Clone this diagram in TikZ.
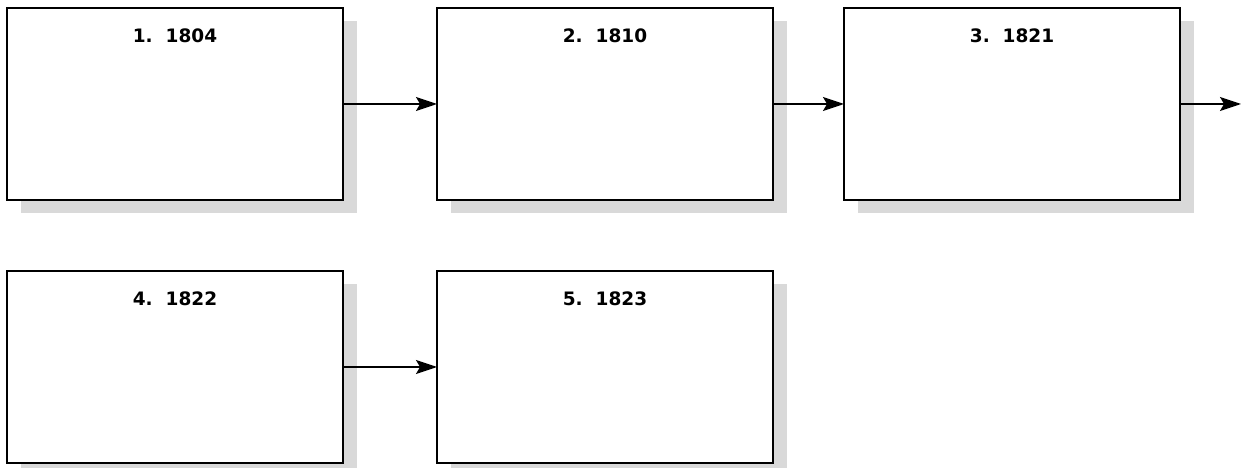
\documentclass[tikz,border=0pt]{standalone}
\usepackage{fontspec}
\setmainfont{DejaVu Sans}
\usetikzlibrary{arrows.meta, positioning, shadows}

\begin{document}
\begin{tikzpicture}[
    x=1pt, y=1pt,
    node distance=71pt,
    box/.style={rectangle, draw=black, fill=white, line width=2.2pt,
        minimum width=336pt, minimum height=192pt, outer sep=0pt, inner sep=0pt,
        drop shadow={shadow xshift=14pt, shadow yshift=-13pt, fill=black!15, opacity=1}},
    yr/.style={anchor=north, yshift=-17pt, font=\fontsize{18.5}{20}\selectfont\bfseries},
    arr/.style={-{Stealth[length=21pt, width=14pt, inset=4pt]}, line width=1.6pt}
]
    \useasboundingbox (0,0) rectangle (1241,468);

    % first row
    \node[box, label={[yr]north:1.\ \ 1804}] (b1) at (175,364) {};
    \node[box, right=94pt of b1, label={[yr]north:2.\ \ 1810}] (b2) {};
    \node[box, right=of b2, label={[yr]north:3.\ \ 1821}] (b3) {};
    \coordinate[right=61pt of b3] (b3out);

    % second row
    \node[box, below=of b1, label={[yr]north:4.\ \ 1822}] (b4) {};
    \node[box, right=94pt of b4, label={[yr]north:5.\ \ 1823}] (b5) {};

    \foreach \a/\b in {b1/b2, b2/b3, b3/b3out, b4/b5}
        \draw[arr] (\a) -- (\b);
\end{tikzpicture}
\end{document}
